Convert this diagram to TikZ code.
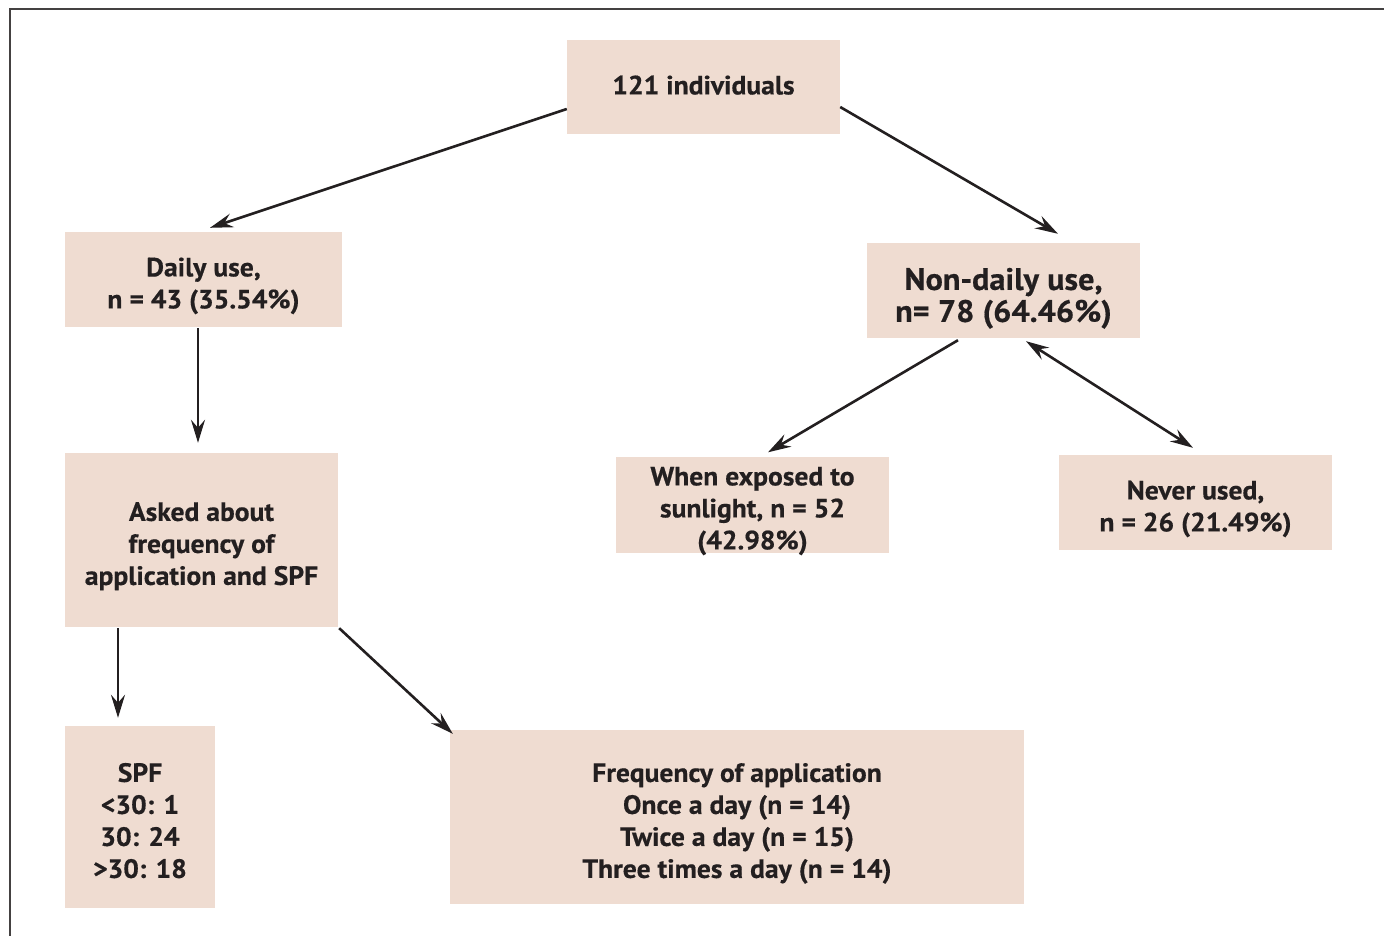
\documentclass[tikz,border=0pt]{standalone}
\usepackage{fontspec}
\setmainfont[FakeStretch=1.04, BoldFeatures={FakeBold=0.5}]{PT Sans}
\usetikzlibrary{arrows.meta}
\definecolor{boxfill}{HTML}{EFDCD1}
\definecolor{ink}{HTML}{231F20}
\newcommand\boxtext[2]{\raisebox{#1}[\height][\depth]{\begin{tabular}{@{}c@{}}#2\end{tabular}}}
\tikzset{
  box/.style={fill=boxfill, draw=none, inner sep=0pt, text=ink,
    font=\bfseries\fontsize{26.5}{32}\selectfont},
  bigbox/.style={box, font=\bfseries\fontsize{31}{32}\selectfont},
  mytip/.tip={Stealth[length=23pt,width=14pt,inset=8pt]},
  conn/.style={draw=ink, line width=2.6pt, -{mytip}},
}
\begin{document}
\begin{tikzpicture}[x=1pt,y=-1pt]
\useasboundingbox (0,0) rectangle (1384,936);
\fill[white] (0,0) rectangle (1384,936);
\draw[line width=2pt, draw=ink!85] (10,936) -- (10,9) -- (1384,9);

\node[box, minimum width=273pt, minimum height=94pt] (top) at (703.5,87) {\boxtext{-1pt}{121 individuals}};
\node[box, minimum width=277pt, minimum height=95pt] (daily) at (203.5,279.5) {\boxtext{-6.5pt}{Daily use,\\n = 43 (35.54\%)}};
\node[bigbox, minimum width=273pt, minimum height=95pt] (nondaily) at (1003.5,290.5) {\boxtext{-9pt}{Non-daily use,\\n= 78 (64.46\%)}};
\node[box, minimum width=273pt, minimum height=174pt] (asked) at (201.5,540) {\boxtext{-6.5pt}{Asked about\\frequency of\\application and SPF}};
\node[box, minimum width=273pt, minimum height=95pt] (sun) at (752.5,504.5) {\boxtext{-6.5pt}{When exposed to\\sunlight, n = 52\\(42.98\%)}};
\node[box, minimum width=273pt, minimum height=95pt] (never) at (1195.5,502.5) {\boxtext{-6.5pt}{Never used,\\n = 26 (21.49\%)}};
\node[box, minimum width=150pt, minimum height=182pt] (spf) at (140,817) {\boxtext{-6.5pt}{SPF\\<30: 1\\30: 24\\>30: 18}};
\node[box, minimum width=574pt, minimum height=174pt] (freq) at (737,817) {\boxtext{-6.5pt}{Frequency of application\\Once a day (n = 14)\\Twice a day (n = 15)\\Three times a day (n = 14)}};

\draw[conn] ([yshift=-22pt]top.west) -- ([xshift=6.5pt,yshift=4pt]daily.north);
\draw[conn] ([yshift=-20pt]top.east) -- ([xshift=54.5pt,yshift=9pt]nondaily.north);
\draw[conn] ([xshift=-5.5pt,yshift=-1pt]daily.south) -- ([xshift=-3.5pt,yshift=10pt]asked.north);
\draw[conn] ([xshift=-45.5pt,yshift=-2pt]nondaily.south) -- ([xshift=15.5pt,yshift=4pt]sun.north);
\draw[conn, {mytip}-{mytip}] ([xshift=22.5pt,yshift=-3pt]nondaily.south) -- ([xshift=-2.5pt,yshift=7pt]never.north);
\draw[conn] ([xshift=-83.5pt,yshift=-1pt]asked.south) -- ([xshift=-22pt,yshift=8pt]spf.north);
\draw[conn] ([xshift=1pt,yshift=-1pt]asked.south east) -- ([xshift=3pt,yshift=-4pt]freq.north west);
\end{tikzpicture}
\end{document}
